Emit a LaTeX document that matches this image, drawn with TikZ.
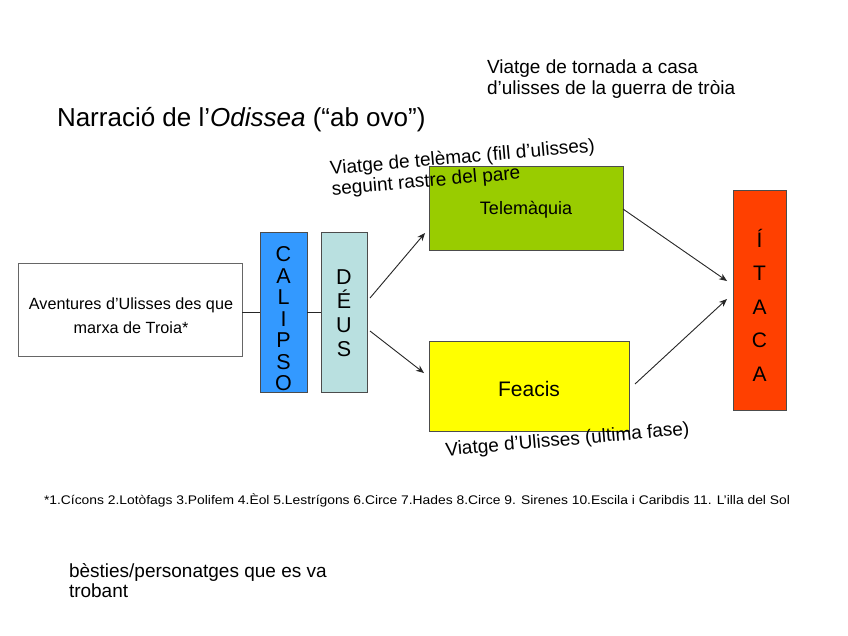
\documentclass[tikz,border=0pt]{standalone}
\usepackage{fontspec}
\setmainfont{Liberation Sans}
\usetikzlibrary{arrows.meta,calc}
\definecolor{telegreen}{HTML}{99CC00}
\definecolor{feayellow}{HTML}{FFFF00}
\definecolor{calblue}{HTML}{3399FF}
\definecolor{deucyan}{HTML}{B9E0E0}
\definecolor{itared}{HTML}{FF4000}
\newcommand\myfs[2]{\fontsize{#1}{#2}\selectfont}
\begin{document}
\begin{tikzpicture}[x=1pt,y=-1pt,
  boxnode/.style={draw=black!70, line width=0.8pt, inner sep=0pt, outer sep=0pt},
  conn/.style={draw=black!85, line width=0.9pt},
  arr/.style={conn, -{Stealth[length=8pt,width=6.5pt]}},
  txt/.style={inner sep=0pt, outer sep=0pt, text=black}]
\fill[white] (0,0) rectangle (848,635);
\useasboundingbox (0,0) rectangle (848,635);

% title and notes
\node[txt, anchor=base west, font=\myfs{26}{30}] (title) at (57,126)
  {Narració de l’\textit{Odissea} (“ab ovo”)};
\node[txt, anchor=north west, align=left, font=\myfs{19}{21}] (tornada) at (487,60)
  {Viatge de tornada a casa\\d’ulisses de la guerra de tròia};

% boxes
\node[boxnode, draw=black!60, minimum width=224pt, minimum height=93pt] (avent) at (130,309.5) {};
\node[txt, align=center, font=\myfs{16.2}{24}] (aventText) at (131,316)
  {Aventures d’Ulisses des que\\marxa de Troia*};
\node[boxnode, fill=calblue, minimum width=47pt, minimum height=160pt] (calipso) at (283.5,312) {};
\node[boxnode, fill=deucyan, minimum width=46pt, minimum height=160pt] (deus) at (344,312) {};
\node[boxnode, fill=telegreen, minimum width=194pt, minimum height=84pt,
      font=\myfs{18}{20}] (telem) at (526,208) {\raisebox{-2pt}[\height][\depth]{Telemàquia}};
\node[boxnode, fill=feayellow, minimum width=200pt, minimum height=90pt,
      font=\myfs{21}{24}] (feacis) at (529,386) {\raisebox{-3pt}[\height][\depth]{Feacis}};
\node[boxnode, fill=itared, minimum width=53pt, minimum height=220pt] (itaca) at (759.5,300) {};

% stacked letters
\node[txt, align=center, font=\myfs{21.5}{21.5}] (calipsoText) at (283.5,319)
  {C\\A\\L\\I\\P\\S\\O};
\node[txt, align=center, font=\myfs{21.5}{24}] (deusText) at (344,313)
  {D\\É\\U\\S};
\node[txt, align=center, font=\myfs{21}{33.5}] (itacaText) at (759.5,305)
  {Í\\T\\A\\C\\A};

% rotated labels
\node[txt, anchor=west, rotate=5, align=left, font=\myfs{19}{20.5}] (telemLabel) at (331,180)
  {Viatge de telèmac (fill d’ulisses)\\seguint rastre del pare};
\node[txt, anchor=base west, rotate=5, font=\myfs{19}{20}] (feaLabel) at (446,456)
  {Viatge d’Ulisses (ultima fase)};

% footnote and bottom text
\node[txt, anchor=base west, font=\myfs{12.5}{14}] (footnote) at (44,504)
  {\resizebox{746pt}{\height}{*1.Cícons 2.Lotòfags 3.Polifem 4.Èol 5.Lestrígons 6.Circe 7.Hades 8.Circe 9. Sirenes 10.Escila i Caribdis 11. L’illa del Sol}};
\node[txt, anchor=north west, align=left, font=\myfs{19}{20.5}] (besties) at (69,563)
  {bèsties/personatges que es va\\trobant};

% connector end points
\coordinate (dUp) at (370,298);
\coordinate (dDown) at (370,331);
\coordinate (tUp) at (425,233);
\coordinate (tDown) at (424,373);
\coordinate (telOut) at (623,209);
\coordinate (feaOut) at (635,384);
\coordinate (itaIn1) at (727,281);
\coordinate (itaIn2) at (727,299);

% connectors
\draw[conn] (avent.east |- 0,312) -- (calipso.west |- 0,312);
\draw[conn] (calipso.east |- 0,312) -- (deus.west |- 0,312);
\draw[arr] (dUp) -- (tUp);
\draw[arr] (dDown) -- (tDown);
\draw[arr] (telOut) -- (itaIn1);
\draw[arr] (feaOut) -- (itaIn2);
\end{tikzpicture}
\end{document}
